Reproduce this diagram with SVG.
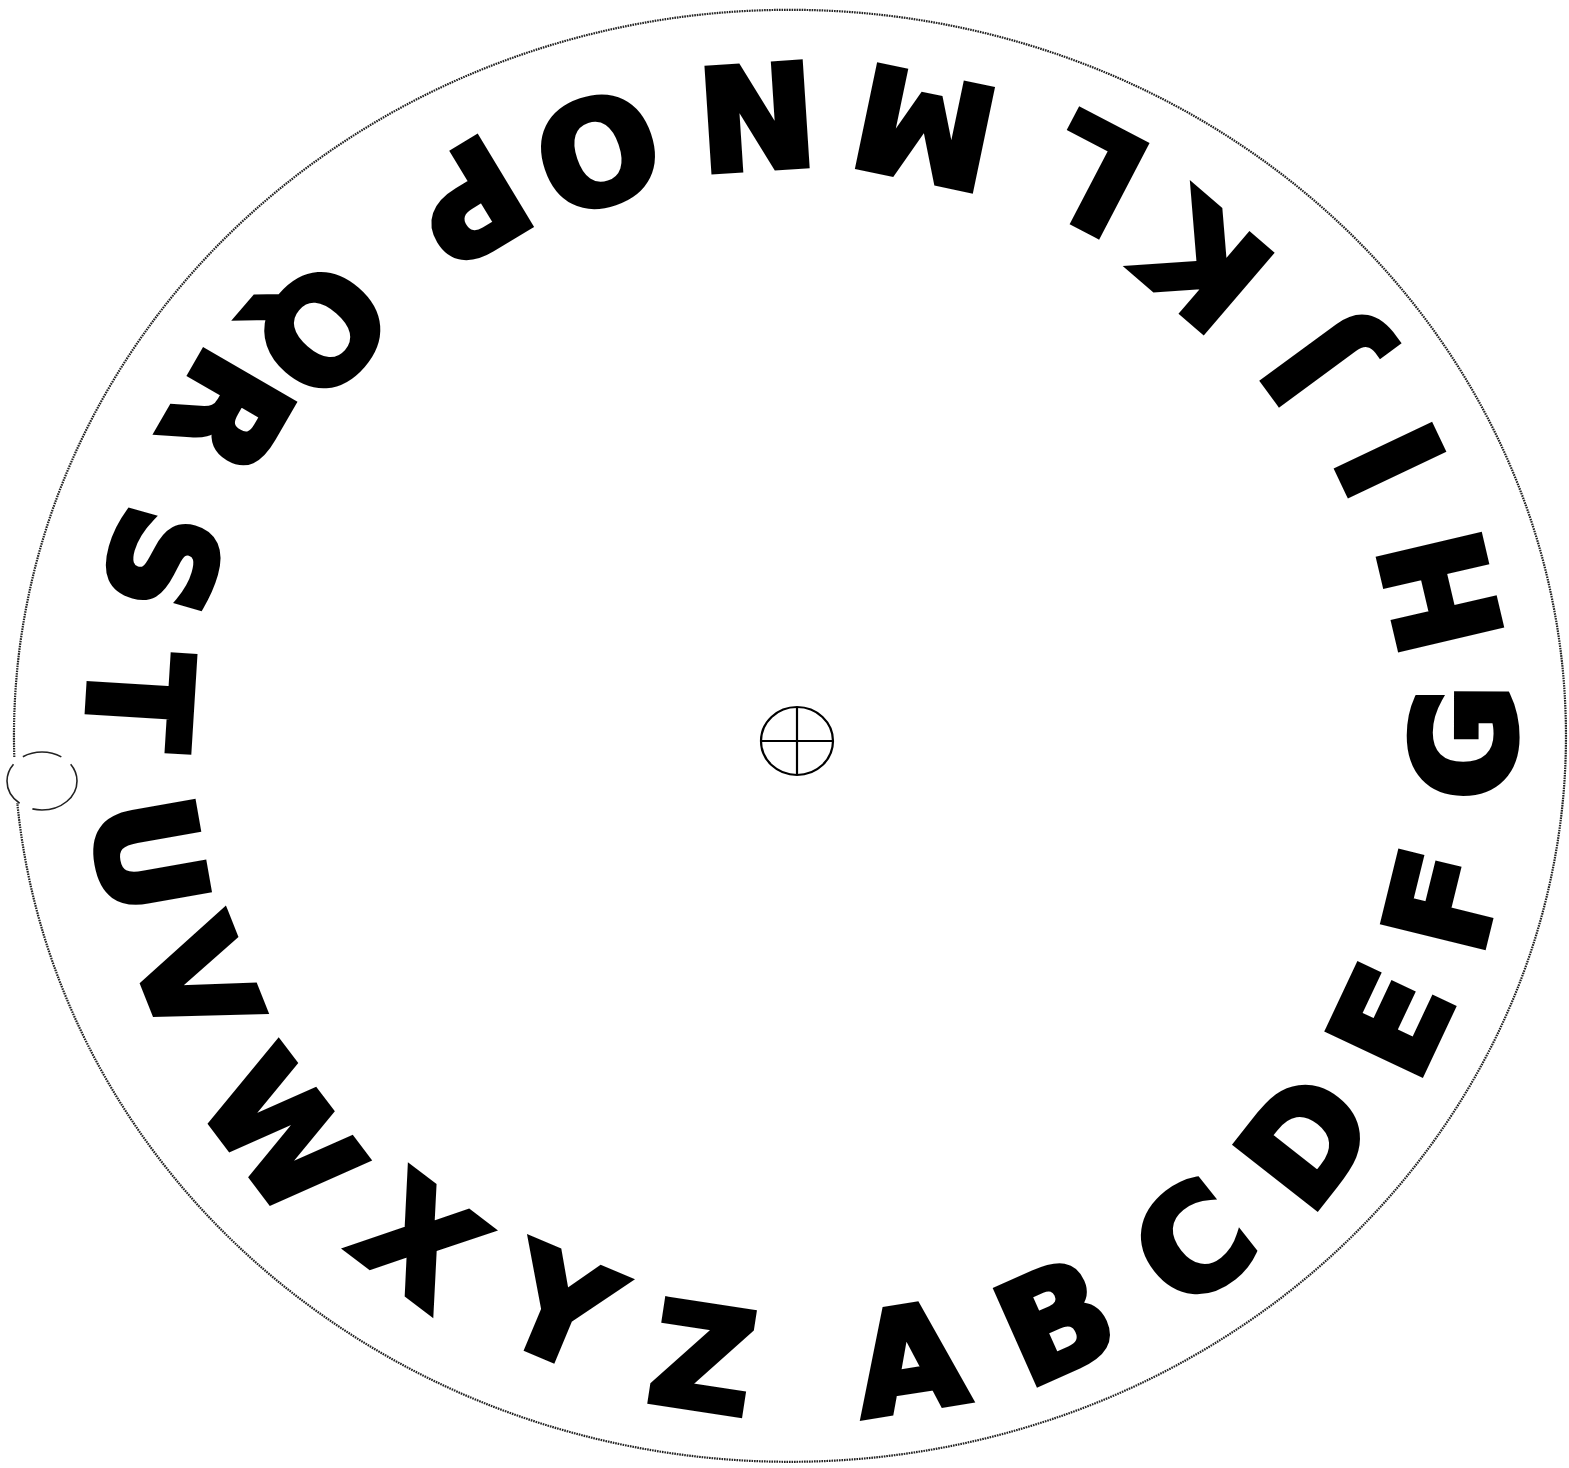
<svg xmlns="http://www.w3.org/2000/svg" width="1569" height="1468" viewBox="0 0 1569 1468">
<style>
.l{font-family:"DejaVu Sans","Liberation Sans",sans-serif;font-weight:bold;font-size:140px;fill:#000;stroke:#000;stroke-width:7;stroke-linejoin:miter;text-anchor:middle}
.rim{fill:none;stroke:#222;stroke-width:2.2;stroke-dasharray:1.6 0.9}
.mark{fill:none;stroke:#000;stroke-width:2.2}
</style>
<rect width="1569" height="1468" fill="#fff"/>
<g id="wheel">
<path class="rim" d="M14.3,757 A776,726 0 1 1 17.3,803"/>
<ellipse cx="42" cy="781" rx="35" ry="29" fill="none" stroke="#222" stroke-width="1.6" stroke-dasharray="60 14 45 12 40 12"/>
</g>
<g id="center">
<ellipse class="mark" cx="797" cy="741" rx="36" ry="34"/>
<line class="mark" x1="761" y1="741" x2="833" y2="741" stroke-width="1.6"/>
<line class="mark" x1="797" y1="707" x2="797" y2="775"/>
</g>
<g id="letters">
<g id="letter-A" transform="translate(909 1358) rotate(-9)"><text class="l" y="51">A</text></g>
<g id="letter-B" transform="translate(1055 1320) rotate(-24)"><text class="l" y="51">B</text></g>
<g id="letter-C" transform="translate(1192 1242) rotate(-38.3)"><text class="l" y="51">C</text></g>
<g id="letter-D" transform="translate(1305 1140) rotate(-51.9)"><text class="l" y="51">D</text></g>
<g id="letter-E" transform="translate(1390 1020) rotate(-64.8)"><text class="l" y="51">E</text></g>
<g id="letter-F" transform="translate(1442 900) rotate(-76.2)"><text class="l" y="51">F</text></g>
<g id="letter-G" transform="translate(1463 742) rotate(-89.9)"><text class="l" y="51">G</text></g>
<g id="letter-H" transform="translate(1440 592) rotate(-103.2)"><text class="l" y="51">H</text></g>
<g id="letter-I" transform="translate(1390 460) rotate(-115.4)"><text class="l" y="51">I</text></g>
<g id="letter-J" transform="translate(1313 362) rotate(-126.3)"><text class="l" y="51">J</text></g>
<g id="letter-K" transform="translate(1205 265) rotate(-139.4)"><text class="l" y="51">K</text></g>
<g id="letter-L" transform="translate(1093 175) rotate(-152.4)"><text class="l" y="51">L</text></g>
<g id="letter-M" transform="translate(925 128) rotate(-168.2)"><text class="l" y="51">M</text></g>
<g id="letter-N" transform="translate(757 117) rotate(176.3)"><text class="l" y="51">N</text></g>
<g id="letter-O" transform="translate(598 152) rotate(161.3)"><text class="l" y="51">O</text></g>
<g id="letter-P" transform="translate(470 202) rotate(148.8)"><text class="l" y="51">P</text></g>
<g id="letter-Q" transform="translate(322 330) rotate(130.9)"><text class="l" y="51">Q</text></g>
<g id="letter-R" transform="translate(228 413) rotate(120)"><text class="l" y="51">R</text></g>
<g id="letter-S" transform="translate(163 562) rotate(105.8)"><text class="l" y="51">S</text></g>
<g id="letter-T" transform="translate(140 701) rotate(93.5)"><text class="l" y="51">T</text></g>
<g id="letter-U" transform="translate(150 855) rotate(80)"><text class="l" y="51">U</text></g>
<g id="letter-V" transform="translate(197 980) rotate(68.3)"><text class="l" y="51">V</text></g>
<g id="letter-W" transform="translate(282 1132) rotate(52.8)"><text class="l" y="51">W</text></g>
<g id="letter-X" transform="translate(420 1240) rotate(37.1)"><text class="l" y="51">X</text></g>
<g id="letter-Y" transform="translate(560 1307) rotate(22.7)"><text class="l" y="51">Y</text></g>
<g id="letter-Z" transform="translate(703 1357) rotate(8.7)"><text class="l" y="51">Z</text></g>
</g>
</svg>
